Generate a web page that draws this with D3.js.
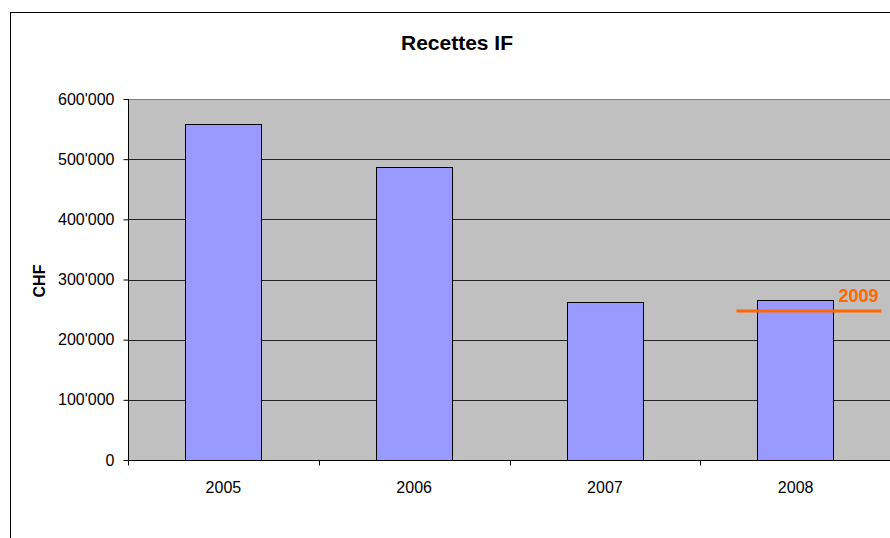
<!DOCTYPE html>
<html><head><meta charset="utf-8">
<script src="https://cdn.jsdelivr.net/npm/d3@7"></script>
<style>body{margin:0;background:#fff}svg{display:block;font-family:"Liberation Sans",Arial,sans-serif}</style>
</head><body>
<svg id="c" width="890" height="538"></svg>
<script>
const categories = ["2005","2006","2007","2008"];
const values = [558000, 487000, 262500, 265500];
const refLabel = "2009";
const refValue = 247500;
const yTicks = [0,100000,200000,300000,400000,500000,600000];

const svg = d3.select("#c");
const m = {left:128, top:99, right:891, bottom:460};
svg.append("rect").attr("x",10.5).attr("y",12.5).attr("width",900).attr("height",600)
  .attr("fill","#fff").attr("stroke","#000").attr("stroke-width",1);

const x = d3.scaleBand().domain(categories).range([m.left,m.right]).paddingInner(0.6).paddingOuter(0.3);
const xb = d3.scaleBand().domain(categories).range([m.left,m.right]);
const y = d3.scaleLinear().domain([0,600000]).range([m.bottom,m.top]);

svg.append("rect").attr("x",m.left).attr("y",m.top).attr("width",m.right-m.left).attr("height",m.bottom-m.top).attr("fill","#C0C0C0");
svg.append("line").attr("x1",m.left).attr("x2",m.right).attr("y1",m.top+0.5).attr("y2",m.top+0.5).attr("stroke","#808080");

svg.append("g").selectAll("line").data(yTicks.slice(1,-1)).join("line")
  .attr("x1",m.left).attr("x2",m.right).attr("y1",d=>Math.round(y(d))+0.5).attr("y2",d=>Math.round(y(d))+0.5)
  .attr("stroke","#222").attr("stroke-width",1);

svg.append("g").selectAll("rect").data(values).join("rect")
  .attr("x",(d,i)=>Math.round(x(categories[i]))+0.5).attr("width",Math.round(x.bandwidth()))
  .attr("y",d=>Math.round(y(d))+0.5).attr("height",d=>Math.round(y(0))-Math.round(y(d)))
  .attr("fill","#9999FF").attr("stroke","#000").attr("stroke-width",1);

const fmt = v => v===0 ? "0" : d3.format(",")(v).replace(/,/g,"'");
const ya = svg.append("g").attr("transform",`translate(${m.left+0.5},0)`)
  .call(d3.axisLeft(y).tickValues(yTicks).tickFormat(fmt).tickSize(5).tickPadding(9));
ya.select(".domain").attr("stroke","#000").attr("d",`M0,${m.top}V${m.bottom}`);
ya.selectAll("text").attr("font-size",16).attr("fill","#000").attr("font-family","Liberation Sans, Arial, sans-serif");

const xa = svg.append("g").attr("transform",`translate(0,${m.bottom+0.5})`);
xa.append("line").attr("x1",m.left).attr("x2",m.right).attr("stroke","#000");
xa.selectAll("line.t").data(categories.concat(["end"])).join("line").attr("class","t")
  .attr("x1",(d,i)=>Math.round(m.left+i*xb.bandwidth())+0.5).attr("x2",(d,i)=>Math.round(m.left+i*xb.bandwidth())+0.5)
  .attr("y1",0).attr("y2",5).attr("stroke","#000");
xa.selectAll("text").data(categories).join("text")
  .attr("x",d=>xb(d)+xb.bandwidth()/2).attr("y",32).attr("text-anchor","middle")
  .attr("font-size",16).text(d=>d);

// reference line 2009
const ly = Math.round(y(refValue));
svg.append("line").attr("x1",xb("2008")+xb.bandwidth()*0.19).attr("x2",xb("2008")+xb.bandwidth()*0.95)
  .attr("y1",ly).attr("y2",ly).attr("stroke","#FF6600").attr("stroke-width",3);
svg.append("text").attr("x",xb("2008")+xb.bandwidth()*0.935).attr("y",ly-9).attr("text-anchor","end")
  .attr("fill","#FF6600").attr("font-weight","bold").attr("font-size",18).text(refLabel);

svg.append("text").attr("x",457).attr("y",50).attr("text-anchor","middle").attr("font-weight","bold").attr("font-size",21).text("Recettes IF");
svg.append("text").attr("transform",`translate(45,281) rotate(-90)`).attr("text-anchor","middle").attr("font-weight","bold").attr("font-size",16).text("CHF");
</script>
</body></html>
